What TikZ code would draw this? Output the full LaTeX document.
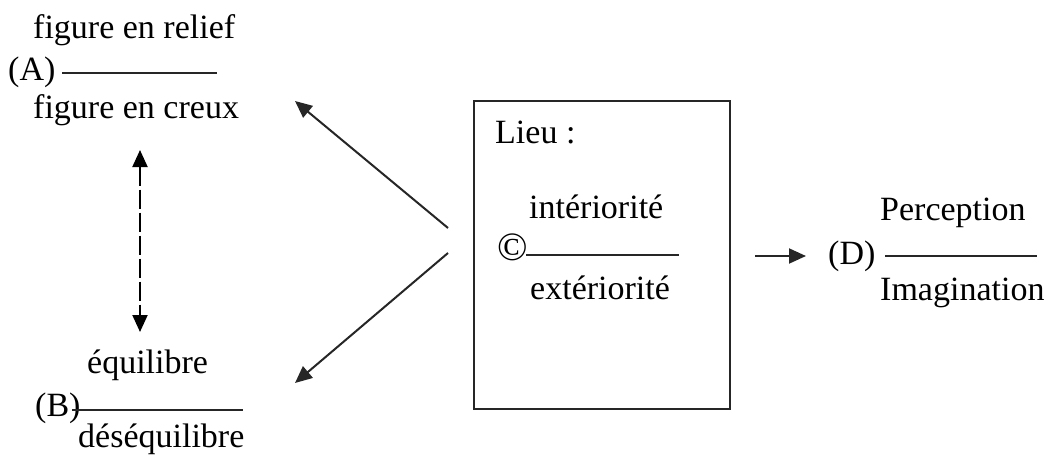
\documentclass[tikz,border=0pt]{standalone}
\usepackage{fontspec}
\setmainfont{Liberation Serif}
\usetikzlibrary{arrows.meta}
\begin{document}
\begin{tikzpicture}[x=1pt,y=-1pt,
  txt/.style={inner sep=0pt, anchor=base west, font=\fontsize{34}{38}\selectfont},
  bar/.style={line width=2pt, draw=black!85},
  conn/.style={line width=2pt, draw=black!85, -{Triangle[length=17pt,width=15pt]}},
  dconn/.style={line width=2pt, dash pattern=on 19pt off 4pt, {Triangle[length=17pt,width=15pt]}-{Triangle[length=17pt,width=15pt]}}]
\useasboundingbox (0,0) rectangle (1045,458);
% (A)
\node[txt] (Anum) at (33,38) {figure en relief};
\node[txt] (Alab) at (8,80) {(A)};
\node[txt] (Aden) at (33,118) {figure en creux};
\coordinate (Al1) at (62,73); \coordinate (Al2) at (217,73);
\draw[bar] (Al1) -- (Al2);
% (B)
\node[txt] (Bnum) at (87,373) {équilibre};
\node[txt] (Blab) at (35,416) {(B)};
\node[txt] (Bden) at (78,447) {déséquilibre};
\coordinate (Bl1) at (72,410); \coordinate (Bl2) at (243,410);
\draw[bar] (Bl1) -- (Bl2);
% dashed link
\coordinate (d1) at (140,150); \coordinate (d2) at (140,332);
\draw[dconn] (d1) -- (d2);
% box
\node[draw=black!85, line width=2pt, minimum width=256.5pt, minimum height=308pt, inner sep=0pt, anchor=north west] (box) at (472.5,99.5) {};
\node[txt] (lieu) at (495,143) {Lieu :};
\node[txt] (Cnum) at (529,218) {intériorité};
\node[txt] (Clab) at (497,260) {\scalebox{1.18}{©}};
\node[txt] (Cden) at (530,299) {extériorité};
\coordinate (Cl1) at (526,255); \coordinate (Cl2) at (679,255);
\draw[bar] (Cl1) -- (Cl2);
% arrows from box
\coordinate (s1) at (448,228); \coordinate (t1) at (295,101);
\coordinate (s2) at (448,253); \coordinate (t2) at (295,383);
\draw[conn] (s1) -- (t1);
\draw[conn] (s2) -- (t2);
% (D)
\coordinate (s3) at (755,256); \coordinate (t3) at (806,256);
\draw[conn] (s3) -- (t3);
\node[txt] (Dlab) at (828,264) {(D)};
\node[txt] (Dnum) at (880,220) {Perception};
\node[txt] (Dden) at (880,300) {Imagination};
\coordinate (Dl1) at (885,256); \coordinate (Dl2) at (1037,256);
\draw[bar] (Dl1) -- (Dl2);
\end{tikzpicture}
\end{document}
